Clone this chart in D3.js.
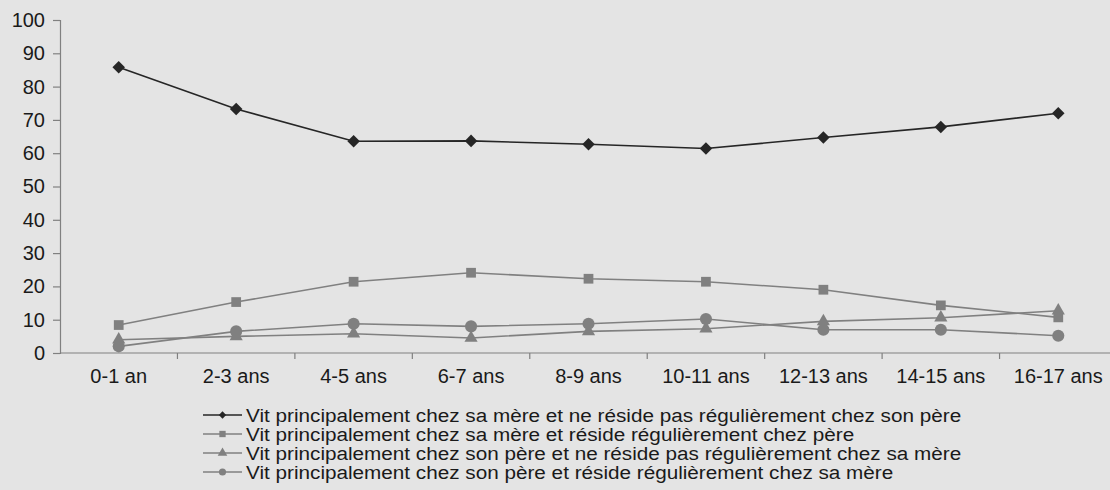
<!DOCTYPE html>
<html>
<head>
<meta charset="utf-8">
<script src="https://cdn.jsdelivr.net/npm/d3@7"></script>
<style>
  html, body { margin: 0; padding: 0; background: #e4e4e4; }
  svg { display: block; }
  text { font-family: "Liberation Sans", Arial, sans-serif; fill: #1a1a1a; }
</style>
</head>
<body>
<div id="plot"></div>
<script>
var width = 1110;
var height = 490;

var categories = ['0-1 an', '2-3 ans', '4-5 ans', '6-7 ans', '8-9 ans', '10-11 ans', '12-13 ans', '14-15 ans', '16-17 ans'];
var mere_sans_pere = [85.8, 73.3, 63.6, 63.7, 62.7, 61.4, 64.7, 67.9, 72.0];
var mere_avec_pere = [8.4, 15.3, 21.4, 24.1, 22.3, 21.4, 19.0, 14.3, 10.7];
var pere_sans_mere = [4.0, 5.0, 5.8, 4.5, 6.5, 7.3, 9.5, 10.6, 12.7];
var pere_avec_mere = [2.0, 6.5, 8.8, 8.0, 8.8, 10.2, 7.0, 7.0, 5.2];
var y_ticks = [0, 10, 20, 30, 40, 50, 60, 70, 80, 90, 100];
var legend_labels = [
    'Vit principalement chez sa mère et ne réside pas régulièrement chez son père',
    'Vit principalement chez sa mère et réside régulièrement chez père',
    'Vit principalement chez son père et ne réside pas régulièrement chez sa mère',
    'Vit principalement chez son père et réside régulièrement chez sa mère'
];

var series = [
    { name: legend_labels[0], values: mere_sans_pere, color: '#262626', symbol: d3.symbolDiamond2, size: 100, lsize: 34 },
    { name: legend_labels[1], values: mere_avec_pere, color: '#808080', symbol: d3.symbolSquare, size: 95, lsize: 40 },
    { name: legend_labels[2], values: pere_sans_mere, color: '#808080', symbol: d3.symbolTriangle, size: 75, lsize: 40 },
    { name: legend_labels[3], values: pere_avec_mere, color: '#808080', symbol: d3.symbolCircle, size: 115, lsize: 40 }
];

var canvas = d3.select('#plot')
    .append('svg')
    .attr('width', width)
    .attr('height', height);

var x0 = 60, x1 = 1117;
var y_top = 20, y_bot = 353;

var x_band = d3.scaleBand()
    .domain(categories)
    .range([x0, x1]);

var y_scale = d3.scaleLinear()
    .domain([0, 100])
    .range([y_bot, y_top]);

// y axis
var y_axis = canvas.append('g')
    .attr('transform', 'translate(' + x0 + ',0)')
    .call(d3.axisLeft(y_scale).tickValues(y_ticks).tickSize(7).tickPadding(8));
y_axis.select('.domain').attr('stroke', '#808080').attr('stroke-width', 1.2);
y_axis.selectAll('.tick line').attr('stroke', '#808080').attr('stroke-width', 1.2);
y_axis.selectAll('.tick text').attr('font-size', 20).attr('fill', '#1a1a1a')
    .attr('font-family', '"Liberation Sans", Arial, sans-serif');

// x axis, ticks sit between categories
var x_axis = canvas.append('g')
    .attr('transform', 'translate(0,' + y_bot + ')');
x_axis.append('line')
    .attr('x1', x0).attr('x2', x1)
    .attr('stroke', '#808080').attr('stroke-width', 1.2);
x_axis.selectAll('line.tick')
    .data(categories)
    .enter()
    .append('line')
    .attr('class', 'tick')
    .attr('x1', function(d) { return x_band(d) + x_band.bandwidth(); })
    .attr('x2', function(d) { return x_band(d) + x_band.bandwidth(); })
    .attr('y1', 0).attr('y2', 6)
    .attr('stroke', '#808080').attr('stroke-width', 1.2);
x_axis.selectAll('text')
    .data(categories)
    .enter()
    .append('text')
    .attr('x', function(d) { return x_band(d) + x_band.bandwidth() / 2; })
    .attr('y', 30)
    .attr('text-anchor', 'middle')
    .attr('font-size', 20)
    .text(function(d) { return d; });

var cx = function(i) { return x_band(categories[i]) + x_band.bandwidth() / 2; };

var line_gen = d3.line()
    .x(function(d, i) { return cx(i); })
    .y(function(d) { return y_scale(d); });

// lines + markers
series.forEach(function(s) {
    canvas.append('path')
        .attr('d', line_gen(s.values))
        .attr('fill', 'none')
        .attr('stroke', s.color)
        .attr('stroke-width', 1.6);
    canvas.selectAll(null)
        .data(s.values)
        .enter()
        .append('path')
        .attr('d', d3.symbol().type(s.symbol).size(s.size))
        .attr('transform', function(d, i) { return 'translate(' + cx(i) + ',' + y_scale(d) + ')'; })
        .attr('fill', s.color);
});

// legend (text a bit condensed vertically, like the original)
var legend = canvas.selectAll('g.legend')
    .data(series)
    .enter()
    .append('g')
    .attr('class', 'legend')
    .attr('transform', function(d, i) { return 'translate(203,' + (415 + i * 19) + ')'; });
legend.append('line')
    .attr('x1', 0).attr('x2', 39)
    .attr('stroke', function(d) { return d.color; })
    .attr('stroke-width', 1.6);
legend.append('path')
    .attr('d', function(d) { return d3.symbol().type(d.symbol).size(d.lsize)(); })
    .attr('transform', 'translate(19.5,0)')
    .attr('fill', function(d) { return d.color; });
legend.append('text')
    .attr('transform', 'translate(43,6.5) scale(1.09,1)')
    .attr('font-size', 19)
    .text(function(d) { return d.name; });
</script>
</body>
</html>
